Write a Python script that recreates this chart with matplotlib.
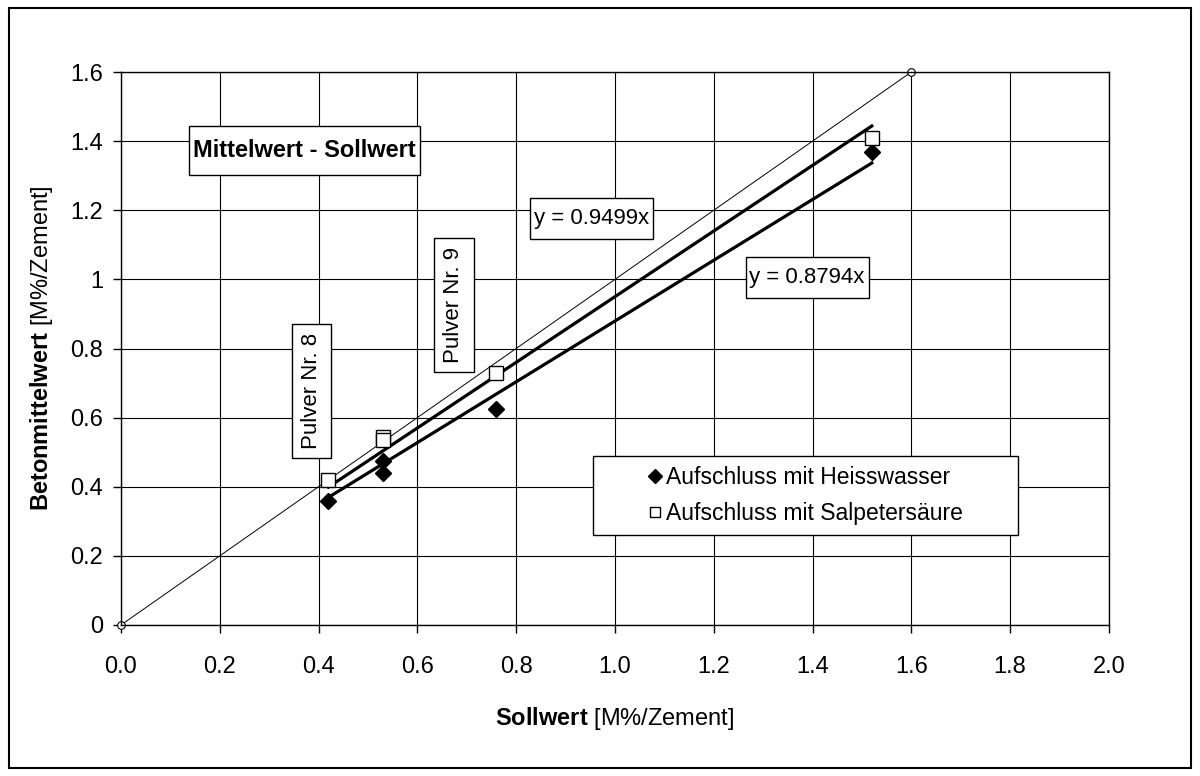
import numpy as np
import matplotlib.pyplot as plt
from matplotlib.patches import Rectangle
from matplotlib.path import Path

plt.rcParams['font.family'] = 'Liberation Sans'
plt.rcParams['mathtext.fontset'] = 'custom'
plt.rcParams['mathtext.rm'] = 'Liberation Sans'
plt.rcParams['mathtext.bf'] = 'Liberation Sans:bold'

# Sollwert vs. Betonmittelwert (M%/Zement)
soll = [0.42, 0.53, 0.53, 0.76, 1.52]
heisswasser = [0.36, 0.475, 0.44, 0.625, 1.37]
salpeter = [0.42, 0.545, 0.535, 0.73, 1.41]

# Steigungen der Regressionsgeraden (durch den Ursprung)
slope_heiss = 0.8794
slope_salp = 0.9499

diag = [0.0, 1.6]
xticks = [0.0, 0.2, 0.4, 0.6, 0.8, 1.0, 1.2, 1.4, 1.6, 1.8, 2.0]
yticks = [0.0, 0.2, 0.4, 0.6, 0.8, 1.0, 1.2, 1.4, 1.6]


def textbox(padx, pady):
    # rechteckiger Rahmen mit getrenntem Abstand in x und y
    def style(x0, y0, width, height, mutation_size):
        px = padx * mutation_size
        py = pady * mutation_size
        x0, y0 = x0 - px, y0 - py
        x1, y1 = x0 + width + 2 * px, y0 + height + 2 * py
        return Path([(x0, y0), (x1, y0), (x1, y1), (x0, y1), (x0, y0)],
                    closed=True)
    return dict(boxstyle=style, fc='white', ec='black', lw=1)


fig = plt.figure(figsize=(12, 7.76), dpi=100)
ax = fig.add_axes([0.1008, 0.1946, 0.8233, 0.7126])

# 1:1 Linie
ax.plot(diag, diag, color='black', lw=0.7, marker='o', ms=5.5,
        mfc='white', mec='black', mew=0.8, zorder=2, clip_on=False)

# Regressionsgeraden
xfit = np.array([min(soll), max(soll)])
ax.plot(xfit, slope_salp * xfit, color='black', lw=2.3, zorder=3)
ax.plot(xfit, slope_heiss * xfit, color='black', lw=2.3, zorder=3)

ax.plot(soll, heisswasser, ls='none', marker='D', ms=8.5, color='black',
        label='Aufschluss mit Heisswasser', zorder=4)
ax.plot(soll, salpeter, ls='none', marker='s', ms=9.5, mfc='white',
        mec='black', mew=1, label='Aufschluss mit Salpeters\u00e4ure', zorder=4)

ax.set_xlim(0, 2.0)
ax.set_ylim(0, 1.6)
ax.set_xticks(xticks)
ax.set_xticklabels(['%.1f' % v for v in xticks])
ax.set_yticks(yticks)
ax.set_yticklabels(['%g' % v for v in yticks])
ax.tick_params(axis='both', direction='out', length=6, width=1,
               color='black', labelsize=17)
ax.tick_params(axis='x', pad=16)
ax.tick_params(axis='y', pad=7)
ax.grid(True, color='black', lw=0.8)
ax.set_axisbelow(True)
for s in ax.spines.values():
    s.set_color('black')
    s.set_linewidth(1)

ax.set_xlabel(r'$\mathbf{Sollwert}$ [M%/Zement]', fontsize=17)
ax.xaxis.set_label_coords(0.5, -0.145)
ax.set_ylabel(r'$\mathbf{Betonmittelwert}$ [M%/Zement]', fontsize=17)
ax.yaxis.set_label_coords(-0.067, 0.5)

ax.text(0.146, 1.374, 'Mittelwert - Sollwert', fontsize=17, fontweight='bold',
        ha='left', va='center', bbox=textbox(0.17, 0.55), zorder=5)
ax.text(0.953, 1.175, 'y = %.4fx' % slope_salp, fontsize=16,
        ha='center', va='center', bbox=textbox(0.17, 0.45), zorder=5)
ax.text(1.389, 1.005, 'y = %.4fx' % slope_heiss, fontsize=16,
        ha='center', va='center', bbox=textbox(0.17, 0.45), zorder=5)
ax.text(0.386, 0.677, 'Pulver Nr. 8', fontsize=16, rotation=90,
        ha='center', va='center', bbox=textbox(0.42, 0.42), zorder=5)
ax.text(0.674, 0.926, 'Pulver Nr. 9', fontsize=16, rotation=90,
        ha='center', va='center', bbox=textbox(0.42, 0.42), zorder=5)

# Legende mit eigenem Rahmen
ax.add_patch(Rectangle((0.478, 0.163), 0.43, 0.143, transform=ax.transAxes,
                       fc='white', ec='black', lw=1, zorder=5))
leg = ax.legend(loc='center', bbox_to_anchor=(0.693, 0.234), frameon=False,
                fontsize=16.5, handlelength=0.6, handletextpad=0.2,
                labelspacing=0.55, markerscale=0.8, borderpad=0.2)
leg.set_zorder(6)

fig.patches.append(Rectangle((0.0075, 0.0103), 0.985, 0.979,
                             transform=fig.transFigure, fill=False,
                             ec='black', lw=1.5))

fig.savefig('out.png', dpi=100)
